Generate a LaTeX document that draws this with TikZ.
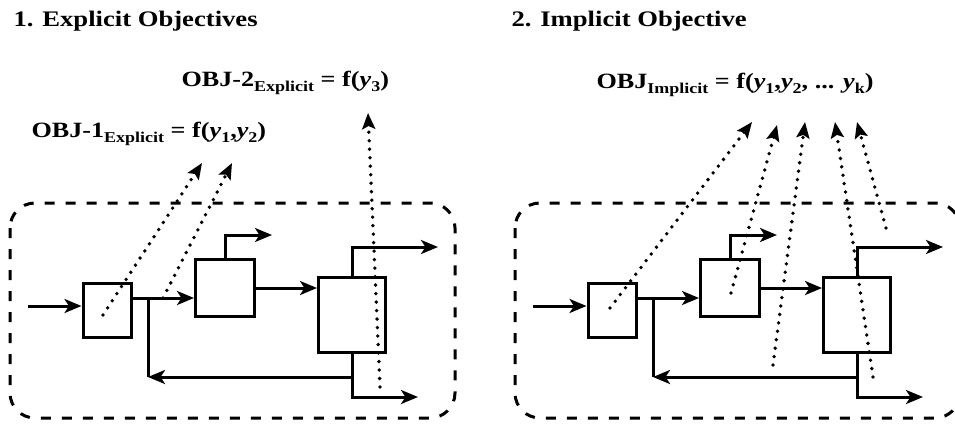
\documentclass[tikz,border=0pt]{standalone}
\usepackage{fontspec}
\setmainfont[FakeStretch=1.2]{Liberation Serif}
\usetikzlibrary{arrows.meta}
\newcommand{\lo}[1]{\raisebox{-.5ex}{\fontsize{15}{15}\selectfont #1}}

\begin{document}
\begin{tikzpicture}[x=1pt,y=-1pt,line width=3pt,
  blk/.style={draw,inner sep=0pt},
  flow/.style={-{Stealth[length=17pt,width=14pt,inset=4.5pt]}},
  obj/.style={line width=3.8pt,line cap=round,dash pattern=on 0pt off 8.5pt,
    -{Stealth[length=16pt,width=13pt,inset=3pt]}},
  frame/.style={dash pattern=on 10pt off 11pt,rounded corners=25pt},
  lbl/.style={anchor=base west,inner sep=0pt,font=\fontsize{21.8}{25}\selectfont\bfseries},
  ttl/.style={lbl,font=\fontsize{22.2}{26}\selectfont\bfseries}]
\useasboundingbox (0,0) rectangle (955,423);

\node[ttl] (titleL) at (12,26) {1. Explicit Objectives};
\node[ttl] (titleR) at (510,26) {2. Implicit Objective};

% same flowsheet in both panels
\foreach \p/\dx in {L/0,R/505}{
  \draw[frame] (10+\dx,203) rectangle (455+\dx,418);
  \node[blk,minimum width=48pt,minimum height=54pt] (\p1) at (107+\dx,310) {};
  \node[blk,minimum width=59pt,minimum height=57pt] (\p2) at (225+\dx,288) {};
  \node[blk,minimum width=67pt,minimum height=75pt] (\p3) at (352+\dx,315) {};
  \coordinate (in\p) at (28+\dx,306);
  \coordinate (s\p) at (148+\dx,298);
  \coordinate (f\p) at (148+\dx,377);
  \coordinate (o2\p) at (272+\dx,235);
  \coordinate (o3\p) at (438+\dx,247);
  \coordinate (o4\p) at (418+\dx,397);
  \draw[flow] (in\p) -- (in\p -| \p1.west);
  \draw (\p1.east |- s\p) -- (s\p);
  \draw[flow] (s\p) -- (s\p -| \p2.west);
  \draw[flow] (\p2.east) -- (\p2.east -| \p3.west);
  \draw[flow] (\p2.north) |- (o2\p);
  \draw[flow] (\p3.north) |- (o3\p);
  \draw[flow] (\p3.south) |- (o4\p);
  \draw[flow] (\p3.south |- f\p) -- (f\p);
  \draw (f\p) -- (s\p);
}

% objectives
\node[lbl] (objA) at (30,137) {OBJ-1\lo{Explicit} = f(\textit{y}\lo{1},\textit{y}\lo{2})};
\node[lbl] (objB) at (180,86) {OBJ-2\lo{Explicit} = f(\textit{y}\lo{3})};
\node[lbl] (objI) at (595,88) {OBJ\lo{Implicit} = f(\textit{y}\lo{1},\textit{y}\lo{2}, ... \textit{y}\lo{k})};

\coordinate (yA1) at (103,315); \coordinate (tA1) at (202,163);
\coordinate (yA2) at (163,298); \coordinate (tA2) at (232,163);
\coordinate (yB3) at (380,387); \coordinate (tB3) at (368,113);
\coordinate (yI1) at (610,308); \coordinate (tI1) at (752,122);
\coordinate (yI2) at (731,293); \coordinate (tI2) at (777,125);
\coordinate (yI3) at (773,365); \coordinate (tI3) at (805,122);
\coordinate (yI4) at (873,377); \coordinate (tI4) at (835,122);
\coordinate (yI5) at (886,228); \coordinate (tI5) at (857,122);
\foreach \n in {A1,A2,B3,I1,I2,I3,I4,I5}
  \draw[obj] (y\n) -- (t\n);
\end{tikzpicture}
\end{document}
